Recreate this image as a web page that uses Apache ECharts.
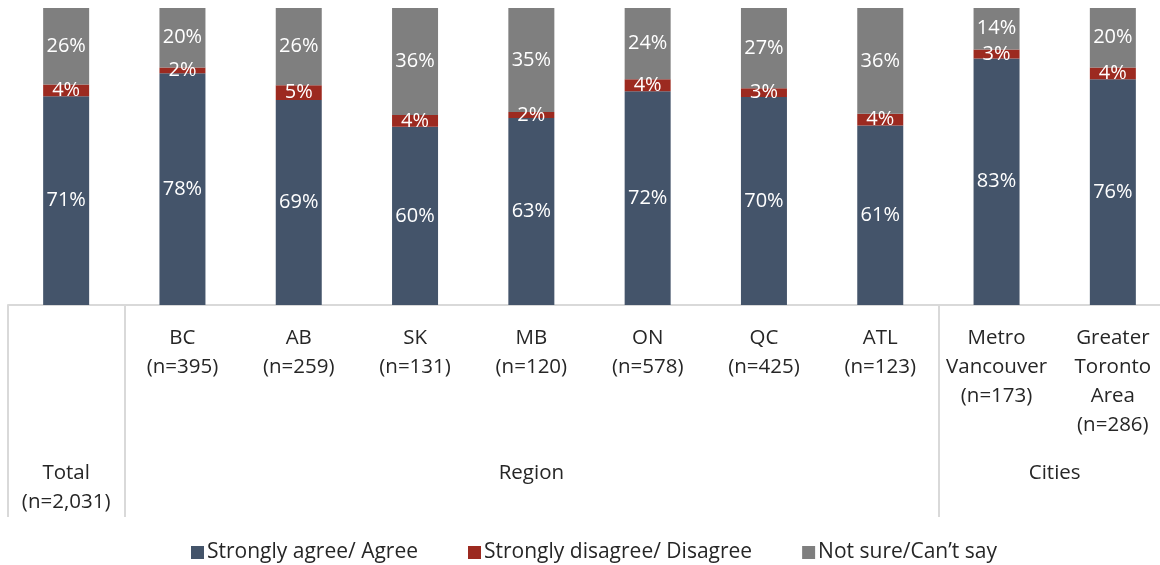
<!DOCTYPE html>
<html>
<head>
<meta charset="utf-8">
<script src="https://cdn.jsdelivr.net/npm/echarts@6/dist/echarts.min.js"></script>
<style>
html,body{margin:0;padding:0;background:#fff;overflow:hidden;width:1160px;height:565px;}
#chart{width:1171px;height:565px;}
</style>
</head>
<body>
<div id="chart"></div>
<script>
const categories = ['Total\n(n=2,031)', 'BC\n(n=395)', 'AB\n(n=259)', 'SK\n(n=131)', 'MB\n(n=120)', 'ON\n(n=578)', 'QC\n(n=425)', 'ATL\n(n=123)', 'Metro\nVancouver\n(n=173)', 'Greater\nToronto\nArea\n(n=286)'];
const agree = [71, 78, 69, 60, 63, 72, 70, 61, 83, 76];
const disagree = [4, 2, 5, 4, 2, 4, 3, 4, 3, 4];
const notSure = [26, 20, 26, 36, 35, 24, 27, 36, 14, 20];
const seriesNames = ['Strongly agree/ Agree', 'Strongly disagree/ Disagree', 'Not sure/Can\u2019t say'];
const groups = [
  {name: 'Region', from: 1, to: 7},
  {name: 'Cities', from: 8, to: 9}
];

const FONT = 'Open Sans';
const FS = 20.5;
const raw = [agree, disagree, notSure];
const colors = ['#44546a', '#9c2a20', '#7f7f7f'];
const totals = categories.map((c, i) => agree[i] + disagree[i] + notSure[i]);

const chart = echarts.init(document.getElementById('chart'), null, {renderer: 'canvas'});

const series = raw.map((arr, s) => ({
  name: seriesNames[s],
  type: 'bar',
  stack: 'all',
  barWidth: 46,
  itemStyle: {color: colors[s]},
  label: {
    show: true,
    position: 'inside',
    color: '#ffffff',
    fontFamily: FONT,
    fontSize: 20,
    formatter: p => raw[s][p.dataIndex] + '%'
  },
  emphasis: {disabled: true},
  data: arr.map((v, i) => v / totals[i] * 100)
}));

chart.setOption({
  animation: false,
  backgroundColor: '#ffffff',
  grid: {left: 8, top: 8, right: 0, height: 297, containLabel: false},
  xAxis: {
    type: 'category',
    data: categories,
    boundaryGap: true,
    axisLine: {show: true, lineStyle: {color: '#d9d9d9', width: 2}},
    axisTick: {
      show: true,
      length: 212,
      lineStyle: {color: '#d9d9d9', width: 2},
      interval: (index) => index === 0 || index === 1 || index === 8
    },
    axisLabel: {
      interval: 0,
      margin: 19,
      color: '#262626',
      fontFamily: FONT,
      fontSize: FS,
      lineHeight: 29,
      formatter: (v, i) => i === 0 ? '' : v
    }
  },
  yAxis: {type: 'value', min: 0, max: 100, show: false, splitLine: {show: false}},
  legend: {
    top: 537,
    left: 186,
    itemWidth: 13,
    itemHeight: 13,
    itemGap: 50,
    icon: 'rect',
    textStyle: {fontFamily: FONT, fontSize: 21, color: '#262626', padding: [0, 0, 0, -2]},
    data: seriesNames
  },
  series: series
});

function groupLabels() {
  const items = [];
  const baseY = chart.convertToPixel({yAxisIndex: 0}, 0);
  const x0 = chart.convertToPixel({xAxisIndex: 0}, 0);
  items.push({
    type: 'text',
    style: {
      text: categories[0], x: x0, y: baseY + 154, textAlign: 'center', textVerticalAlign: 'top',
      fontFamily: FONT, fontSize: FS, lineHeight: 29, fill: '#262626'
    }
  });
  groups.forEach(g => {
    const a = chart.convertToPixel({xAxisIndex: 0}, g.from);
    const b = chart.convertToPixel({xAxisIndex: 0}, g.to);
    items.push({
      type: 'text',
      style: {
        text: g.name, x: (a + b) / 2, y: baseY + 154, textAlign: 'center', textVerticalAlign: 'top',
        fontFamily: FONT, fontSize: FS, lineHeight: 29, fill: '#262626'
      }
    });
  });
  chart.setOption({graphic: items});
}
groupLabels();
</script>
</body>
</html>
